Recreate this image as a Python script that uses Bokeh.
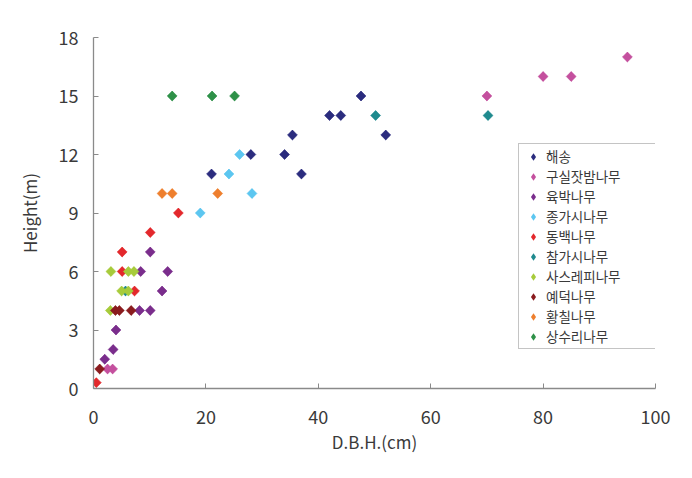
import math
from bokeh.plotting import figure
from bokeh.models import FixedTicker, Legend, LegendItem, ColumnDataSource
from bokeh.embed import file_html
from bokeh.resources import INLINE

# ---- data (D.B.H. cm, Height m) ----
names = ["해송", "구실잣밤나무", "육박나무", "종가시나무", "동백나무",
         "참가시나무", "사스레피나무", "예덕나무", "황칠나무", "상수리나무"]
colors = ["#2B2C7E", "#C4509E", "#7A2D8C", "#5CC6F0", "#E3282C",
          "#1F8A8E", "#A7CB3B", "#8A1B1E", "#EE7F2E", "#2E9148"]

haesong_x = [21, 28, 34, 35.4, 37, 42, 44, 47.6, 52]
haesong_y = [11, 12, 12, 13, 11, 14, 14, 15, 13]
gusil_x = [2.5, 3.4, 70, 80, 85, 95]
gusil_y = [1, 1, 15, 16, 16, 17]
yukbak_x = [2, 3.5, 4, 8.2, 10.1, 12.2, 8.4, 13.2, 10.1]
yukbak_y = [1.5, 2, 3, 4, 4, 5, 6, 6, 7]
jongga_x = [19, 28.2, 24.1, 26]
jongga_y = [9, 10, 11, 12]
dongbaek_x = [0.5, 5.1, 5.1, 7.3, 10.1, 15.1]
dongbaek_y = [0.3, 6, 7, 5, 8, 9]
chamga_x = [5.7, 50.2, 70.2]
chamga_y = [5, 14, 14]
saseure_x = [3.0, 3.1, 6.2, 7.2, 5.0, 6.2]
saseure_y = [4, 6, 6, 6, 5, 5]
yedeok_x = [1.1, 3.9, 4.6, 6.7]
yedeok_y = [1, 4, 4, 4]
hwangchil_x = [12.2, 14.0, 22.1]
hwangchil_y = [10, 10, 10]
sangsuri_x = [14.0, 21.1, 25.1]
sangsuri_y = [15, 15, 15]

series_x = [haesong_x, gusil_x, yukbak_x, jongga_x, dongbaek_x,
            chamga_x, saseure_x, yedeok_x, hwangchil_x, sangsuri_x]
series_y = [haesong_y, gusil_y, yukbak_y, jongga_y, dongbaek_y,
            chamga_y, saseure_y, yedeok_y, hwangchil_y, sangsuri_y]

x_ticks = [0, 20, 40, 60, 80, 100]
y_ticks = [0, 3, 6, 9, 12, 15, 18]

FONT = "Noto Sans CJK KR"
TXT = "#3a3a3a"
AX = "#8a8a8a"

p = figure(width=684, height=470, output_backend="svg", toolbar_location=None,
           x_range=(0, 100), y_range=(0, 18),
           min_border_left=93, min_border_right=29, min_border_top=37,
           min_border_bottom=82)
p.outline_line_color = None
p.grid.visible = False
p.background_fill_color = "white"

items = []
for nm, c, xs, ys in zip(names, colors, series_x, series_y):
    src = ColumnDataSource(data=dict(x=xs, y=ys))
    # legend-glyph carrier: a diamond hidden under each plotted marker
    proxy = p.scatter("x", "y", source=src, marker="diamond", size=10,
                      fill_color=c, line_color=None)
    p.scatter("x", "y", source=src, marker="square", size=7, angle=math.pi / 4,
              fill_color=c, line_color=c, line_width=0.6)
    items.append(LegendItem(label=nm, renderers=[proxy]))

for ax, ticks in ((p.xaxis[0], x_ticks), (p.yaxis[0], y_ticks)):
    ax.ticker = FixedTicker(ticks=ticks)
    ax.minor_tick_line_color = None
    ax.major_tick_in = 5
    ax.major_tick_out = 0
    ax.axis_line_color = AX
    ax.major_tick_line_color = AX
    ax.axis_line_width = 1.3
    ax.major_label_text_font = FONT
    ax.major_label_text_font_size = "18px"
    ax.major_label_text_color = TXT
    ax.axis_label_text_font = FONT
    ax.axis_label_text_font_size = "17px"
    ax.axis_label_text_font_style = "normal"
    ax.axis_label_text_color = TXT

p.xaxis.axis_label = "D.B.H.(cm)"
p.yaxis.axis_label = "Height(m)"
p.xaxis.major_label_standoff = 21
p.xaxis.axis_label_standoff = 2
p.yaxis.major_label_standoff = 15
p.yaxis.axis_label_standoff = 14

legend = Legend(items=items, location=(425, 39))
legend.label_text_font = FONT
legend.label_text_font_size = "13.5px"
legend.label_text_color = TXT
legend.glyph_height = 19
legend.glyph_width = 24
legend.label_height = 19
legend.label_width = 110
legend.spacing = 0
legend.padding = 2
legend.margin = 0
legend.label_standoff = 1
legend.border_line_color = "#8a8a8a"
legend.border_line_width = 1.2
legend.background_fill_color = "white"
legend.background_fill_alpha = 1
p.add_layout(legend, "center")

open("out.html", "w").write(file_html(p, INLINE))
